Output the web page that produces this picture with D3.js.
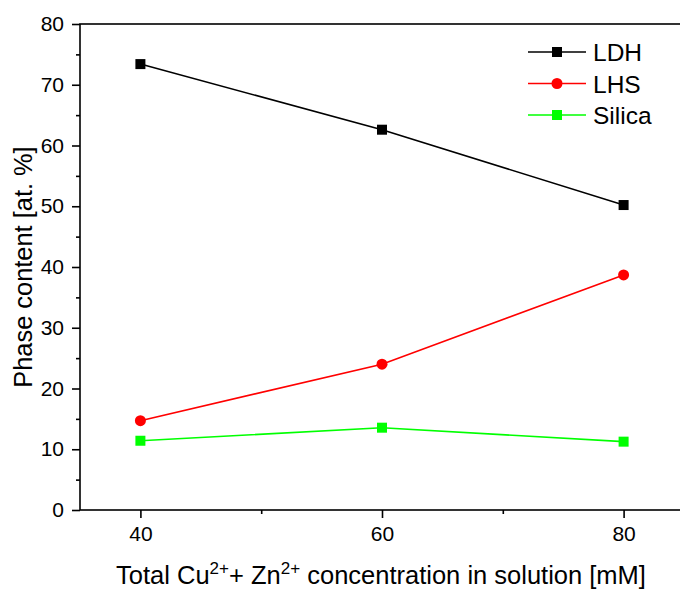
<!DOCTYPE html>
<html>
<head>
<meta charset="utf-8">
<script src="https://cdn.jsdelivr.net/npm/d3@7"></script>
<style>
  body { margin: 0; background: #fff; }
  svg { display: block; }
  text { font-family: Arial, "Liberation Sans", sans-serif; fill: #000; }
</style>
</head>
<body>
<svg id="chart" width="680" height="590"></svg>
<script>
const concentrations = [40, 60, 80];
const ldh = [73.4, 62.6, 50.2];
const lhs = [14.7, 24.0, 38.7];
const silica = [11.4, 13.55, 11.25];
const xMajorTicks = [40, 60, 80];
const xMinorTicks = [50, 70];
const yMajorTicks = [0, 10, 20, 30, 40, 50, 60, 70, 80];
const yMinorTicks = [5, 15, 25, 35, 45, 55, 65, 75];

const series = [
  { name: "LDH", values: ldh, color: "#000000", marker: "square" },
  { name: "LHS", values: lhs, color: "#ff0000", marker: "circle" },
  { name: "Silica", values: silica, color: "#00ff00", marker: "square" }
];

const svg = d3.select("#chart");
const mLeft = 80, mRight = 684, mTop = 24, mBottom = 510;
const x = d3.scaleLinear().domain([35, 85]).range([mLeft, mRight]);
const y = d3.scaleLinear().domain([0, 80]).range([mBottom, mTop]);

// frame
svg.append("rect").attr("x", mLeft).attr("y", mTop)
  .attr("width", mRight - mLeft).attr("height", mBottom - mTop)
  .attr("fill", "none").attr("stroke", "#000").attr("stroke-width", 1.6);

// y axis
const yAxis = svg.append("g").attr("transform", `translate(${mLeft},0)`)
  .call(d3.axisLeft(y).tickValues(yMajorTicks).tickSize(8).tickPadding(8).tickFormat(d3.format("d")));
yAxis.select(".domain").remove();
yAxis.selectAll("line").attr("stroke-width", 1.6);
yAxis.selectAll("text").style("font-size", "21px").attr("font-family", null);
const yMinor = svg.append("g").attr("transform", `translate(${mLeft},0)`)
  .call(d3.axisLeft(y).tickValues(yMinorTicks).tickSize(4).tickFormat(""));
yMinor.select(".domain").remove();
yMinor.selectAll("line").attr("stroke-width", 1.6);

// x axis
const xAxis = svg.append("g").attr("transform", `translate(0,${mBottom})`)
  .call(d3.axisBottom(x).tickValues(xMajorTicks).tickSize(8).tickPadding(8).tickFormat(d3.format("d")));
xAxis.select(".domain").remove();
xAxis.selectAll("line").attr("stroke-width", 1.6);
xAxis.selectAll("text").style("font-size", "21px").attr("font-family", null);
const xMinor = svg.append("g").attr("transform", `translate(0,${mBottom})`)
  .call(d3.axisBottom(x).tickValues(xMinorTicks).tickSize(4).tickFormat(""));
xMinor.select(".domain").remove();
xMinor.selectAll("line").attr("stroke-width", 1.6);

// lines and markers
function drawMarker(g, type, cx, cy, color) {
  if (type === "square") {
    g.append("rect").attr("x", cx - 5).attr("y", cy - 5).attr("width", 10).attr("height", 10).attr("fill", color);
  } else {
    g.append("circle").attr("cx", cx).attr("cy", cy).attr("r", 5.5).attr("fill", color);
  }
}
const line = d3.line().x((d, i) => x(concentrations[i])).y(d => y(d));
series.forEach(s => {
  const g = svg.append("g");
  g.append("path").attr("d", line(s.values)).attr("fill", "none")
    .attr("stroke", s.color).attr("stroke-width", 1.6);
  s.values.forEach((v, i) => drawMarker(g, s.marker, x(concentrations[i]), y(v), s.color));
});

// legend
series.forEach((s, i) => {
  const ly = 52 + i * 31.5;
  const g = svg.append("g");
  g.append("line").attr("x1", 528).attr("x2", 586).attr("y1", ly).attr("y2", ly)
    .attr("stroke", s.color).attr("stroke-width", 1.6);
  drawMarker(g, s.marker, 557, ly, s.color);
  g.append("text").attr("x", 593).attr("y", ly + 9).style("font-size", "24.5px").text(s.name);
});

// axis titles
svg.append("text").attr("transform", `translate(32,${(mTop + mBottom) / 2}) rotate(-90)`)
  .attr("text-anchor", "middle").style("font-size", "25.4px").text("Phase content [at. %]");

const xt = svg.append("text").attr("x", 381).attr("y", 584).attr("text-anchor", "middle").style("font-size", "25.5px");
xt.append("tspan").text("Total Cu");
xt.append("tspan").attr("dy", -10).style("font-size", "17px").text("2+");
xt.append("tspan").attr("dy", 10).text("+ Zn");
xt.append("tspan").attr("dy", -10).style("font-size", "17px").text("2+");
xt.append("tspan").attr("dy", 10).text(" concentration in solution [mM]");
</script>
</body>
</html>
